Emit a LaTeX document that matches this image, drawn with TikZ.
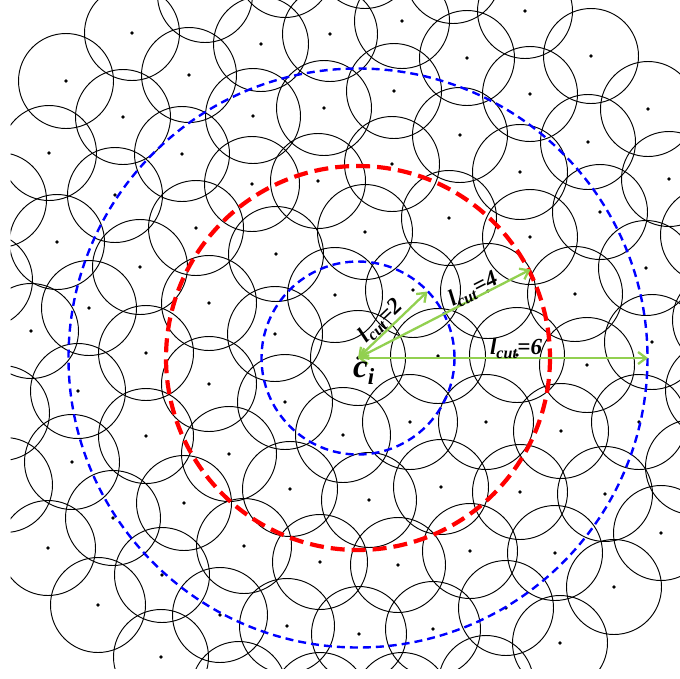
\documentclass[tikz,border=0pt]{standalone}
\usepackage{fontspec}
\setmainfont{Liberation Serif}
\usetikzlibrary{arrows.meta}
\definecolor{cutgreen}{RGB}{146,208,80}
\definecolor{cutblue}{RGB}{0,0,255}
\definecolor{cutred}{RGB}{255,0,0}
\begin{document}
\begin{tikzpicture}[x=1pt,y=-1pt,
  particle/.style={draw=black, line width=0.95pt},
  centerdot/.style={fill=black},
  bluering/.style={draw=cutblue, line width=2.4pt, dash pattern=on 8pt off 5pt},
  redring/.style={draw=cutred, line width=4.2pt, dash pattern=on 14pt off 7pt},
  cutarrow/.style={draw=cutgreen, line width=2.3pt, {Straight Barb[length=8pt,width=12pt]}-{Straight Barb[length=8pt,width=12pt]}},
  cutlabel/.style={font=\fontsize{23}{23}\selectfont\bfseries\itshape, inner sep=0pt, sloped},
  cilabelstyle/.style={font=\fontsize{33}{33}\selectfont\bfseries\itshape, inner sep=0pt}]
\useasboundingbox (0,0) rectangle (680,678);
\begin{scope}
\clip (10.5,0) rectangle (680,668);
% particles with visible centres
\foreach \px/\py in {
132/33, 330/34, 261/44, 189/75, 66/81, 324/108, 123/117, 253/116,
49/153, 182/154, 252/184, 318/181, 115/195, 196/228, 57/242, 276/254,
140/267, 335/295, 89/308, 209/303, 31/331, 275/334,
525/11, 402/21, 467/58, 591/56, 394/91, 530/94, 648/109, 460/135,
588/142, 392/164, 520/172, 669/179, 600/212, 449/218, 365/232, 530/237,
646/268, 575/294, 413/290, 488/291, 652/342, 438/356, 517/355, 587/365,
410/422, 486/422, 561/431, 639/422, 343/435, 441/487, 520/492, 605/494,
369/500, 661/533, 470/551, 555/553, 398/565, 614/587, 506/608, 433/629,
359/634, 560/643,
146/353, 209/384, 78/391, 285/402, 146/436, 229/454, 72/462, 290/489,
184/503, 113/518, 48/548, 244/546, 320/562, 162/575, 98/605, 220/615,
287/626, 161/657, 358/358}{
  \draw[particle] (\px,\py) circle[radius=47.5];
  \fill[centerdot] (\px,\py) circle[radius=1.8];
}
% particles whose centres lie outside the frame
\foreach \px/\py in {
205/-5, 285/-30, 365/-39, 453/-24,
-1/200, -15/280, 2/413, 5/485,
708/235, 720/320, 713/390, 693/467,
239/689, 320/700, 402/700, 486/683}{
  \draw[particle] (\px,\py) circle[radius=47.5];
}
\end{scope}
% cut-off rings
\coordinate (ci) at (358,358);
\draw[bluering] (ci) circle[radius=96.5];
\draw[redring] (ci) circle[radius=192];
\draw[bluering] (ci) circle[radius=289.5];
% arrows
\coordinate (e2) at (427.5,291.5);
\coordinate (e4) at (530.5,269.5);
\coordinate (e6) at (648,358);
\draw[cutarrow] (ci) -- node[cutlabel, pos=0.44, above=0pt] (lab2) {l\textsubscript{cut}=2} (e2);
\draw[cutarrow] (ci) -- node[cutlabel, pos=0.69, above=-3pt] (lab4) {l\textsubscript{cut}=4} (e4);
\draw[cutarrow] (ci) -- node[cutlabel, pos=0.545, above=-2pt] (lab6) {l\textsubscript{cut}=6} (e6);
\node[cilabelstyle] (cilab) at (364,373) {c\textsubscript{i}};
\end{tikzpicture}
\end{document}
